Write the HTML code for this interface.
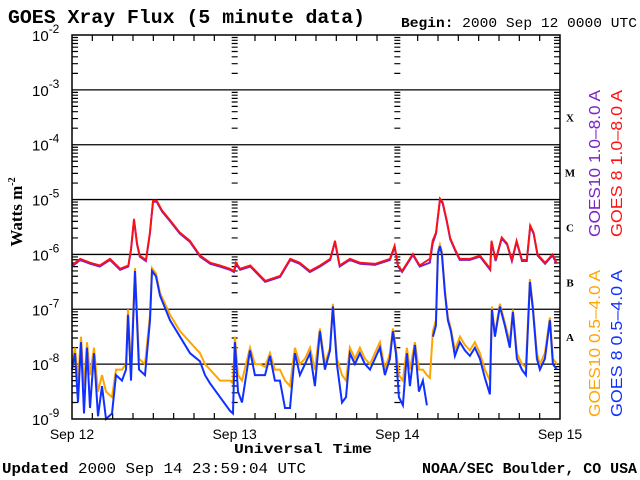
<!DOCTYPE html>
<html><head><meta charset="utf-8"><style>
html,body{margin:0;padding:0;background:#fff}
svg{display:block}
.s{font-family:"Liberation Serif",serif;font-weight:bold}
.m{font-family:"Liberation Mono",monospace;font-weight:bold}
.n{font-family:"Liberation Sans",sans-serif}
</style></head><body>
<svg id="chart" width="640" height="480" viewBox="0 0 640 480" xmlns="http://www.w3.org/2000/svg">
<rect width="640" height="480" fill="#fff"/>
<text class="m" x="8" y="23" font-size="19" textLength="357" lengthAdjust="spacingAndGlyphs">GOES Xray Flux (5 minute data)</text>
<text class="m" x="401" y="27" font-size="14" textLength="236" lengthAdjust="spacingAndGlyphs">Begin:  <tspan font-weight="normal">2000 Sep 12 0000 UTC</tspan></text>
<text class="s" font-size="17" transform="translate(22,212) rotate(-90)" text-anchor="middle">Watts m<tspan font-size="10" dy="-7">-2</tspan></text>
<text class="m" x="234" y="453" font-size="14" textLength="138" lengthAdjust="spacingAndGlyphs">Universal Time</text>
<text class="m" x="2" y="473" font-size="15" textLength="304" lengthAdjust="spacingAndGlyphs">Updated <tspan font-weight="normal">2000 Sep 14 23:59:04 UTC</tspan></text>
<text class="m" x="422" y="473" font-size="15" textLength="215" lengthAdjust="spacingAndGlyphs">NOAA/SEC Boulder, CO USA</text>
<g id="legend">
<text class="n" fill="#7b22c8" font-size="16" transform="translate(600,237) rotate(-90)" textLength="147" lengthAdjust="spacingAndGlyphs">GOES10 1.0–8.0 A</text>
<text class="n" fill="#ff1010" font-size="16" transform="translate(622,237) rotate(-90)" textLength="147" lengthAdjust="spacingAndGlyphs">GOES 8 1.0–8.0 A</text>
<text class="n" fill="#ffa500" font-size="16" transform="translate(600,417) rotate(-90)" textLength="147" lengthAdjust="spacingAndGlyphs">GOES10 0.5–4.0 A</text>
<text class="n" fill="#1030ff" font-size="16" transform="translate(622,417) rotate(-90)" textLength="147" lengthAdjust="spacingAndGlyphs">GOES 8 0.5–4.0 A</text>
</g>
<g id="grid"></g>
<g id="series"></g>
<g id="axes"></g>
</svg>
<script>
const dayLabels = ["Sep 12","Sep 13","Sep 14","Sep 15"];
const decadeExps = [-2,-3,-4,-5,-6,-7,-8,-9];
const flareClasses = ["X","M","C","B","A"];
const flareExps = [-4,-5,-6,-7,-8];

const longHours = [0,1.2,2.7,4.1,5.6,7.1,8.3,8.7,9.15,9.6,10.0,10.9,11.5,11.95,12.5,13.3,14.5,15.9,17.4,18.9,20.4,21.8,23.3,23.9,24.2,24.8,26.3,28.5,30.7,32.2,33.6,35.1,36.6,38.1,38.8,39.5,41.0,42.5,44.7,46.9,47.6,48.1,48.7,50.3,51.3,52.8,53.2,53.7,54.3,54.7,55.3,55.8,56.5,57.2,58.7,60.2,61.7,61.9,62.5,63.4,64.2,64.9,65.6,66.4,67.1,67.6,68.1,68.7,69.8,70.9,71.5];
const goes8Long = [-6.2,-6.08,-6.15,-6.2,-6.08,-6.26,-6.2,-5.9,-5.35,-5.8,-6.02,-6.1,-5.6,-5.02,-5.02,-5.2,-5.38,-5.6,-5.75,-6.02,-6.15,-6.2,-6.26,-6.3,-6.15,-6.26,-6.2,-6.48,-6.39,-6.08,-6.15,-6.3,-6.2,-6.08,-5.75,-6.2,-6.08,-6.15,-6.17,-6.08,-5.84,-6.2,-6.3,-5.99,-6.2,-6.08,-5.75,-5.6,-4.98,-5.05,-5.38,-5.7,-5.9,-6.08,-6.08,-6.02,-6.26,-5.75,-6.1,-5.69,-5.8,-6.1,-5.75,-6.1,-6.1,-5.47,-5.6,-6.0,-6.15,-6.0,-6.15];
const goes10Long = [-6.22,-6.1,-6.17,-6.22,-6.1,-6.28,-6.22,-5.92,-5.37,-5.82,-6.04,-6.12,-5.62,-5.04,-5.04,-5.22,-5.4,-5.62,-5.77,-6.04,-6.17,-6.22,-6.28,-6.32,-6.17,-6.28,-6.22,-6.5,-6.41,-6.1,-6.17,-6.32,-6.22,-6.1,-5.77,-6.22,-6.1,-6.17,-6.19,-6.1,-5.86,-6.22,-6.32,-6.01,-6.22,-6.15,-5.8,-5.62,-5.0,-5.07,-5.4,-5.72,-5.92,-6.1,-6.1,-6.04,-6.28,-5.77,-6.12,-5.71,-5.82,-6.12,-5.77,-6.12,-6.12,-5.49,-5.62,-6.02,-6.17,-6.02,-6.17];

const shortHours = [0,0.44,0.89,1.33,1.77,2.21,2.66,3.25,3.84,4.43,5.02,5.9,6.49,7.38,7.97,8.26,8.7,9.29,9.88,10.77,11.51,11.8,12.39,12.98,14.46,15.93,17.41,18.88,19.62,20.36,21.83,23.31,23.75,24.04,24.49,25.08,26.26,26.99,27.73,28.47,29.21,29.94,30.68,31.42,32.16,32.89,33.63,34.37,35.11,35.84,36.58,37.32,38.06,38.5,39.09,39.83,40.42,41.0,41.74,42.48,43.22,43.96,44.69,45.43,46.17,46.91,47.35,47.79,48.23,48.82,49.41,49.86,50.59,51.18,51.77,52.36,52.8,53.25,53.69,53.99,54.28,54.58,55.02,55.46,55.9,56.49,57.23,57.97,58.71,59.44,60.18,60.92,61.66,61.95,62.39,63.13,63.87,64.6,65.05,65.64,66.38,66.97,67.56,68.0,68.59,69.03,69.77,70.51,70.95,71.54];
const goes8Short = [-8.1,-7.8,-8.7,-7.6,-8.9,-7.7,-8.8,-7.8,-8.95,-8.4,-9.0,-8.9,-8.2,-8.3,-8.1,-7.1,-8.3,-6.3,-8.1,-8.2,-7.2,-6.3,-6.4,-6.75,-7.2,-7.5,-7.8,-7.95,-8.2,-8.35,-8.6,-8.85,-8.9,-7.6,-8.5,-8.7,-7.75,-8.2,-8.2,-8.2,-7.85,-8.3,-8.3,-8.8,-8.8,-7.8,-8.2,-8.0,-7.8,-8.4,-7.4,-8.1,-7.75,-6.95,-8.0,-8.7,-8.6,-7.8,-8.0,-7.8,-8.0,-8.1,-7.9,-7.7,-8.2,-7.9,-7.4,-7.8,-8.6,-8.75,-7.8,-8.4,-7.65,-8.5,-8.3,-8.75,null,-7.5,-7.3,-6.0,-5.85,-6.0,-6.7,-7.2,-7.4,-7.85,-7.6,-7.75,-7.85,-7.7,-7.9,-8.25,-8.55,-7.0,-7.5,-6.95,-7.3,-7.7,-7.05,-7.9,-8.1,-8.2,-6.5,-7.0,-7.9,-8.1,-7.9,-7.2,-8.0,-8.1];
const goes10Short = [-8.0,-7.7,-8.3,-7.5,-8.4,-7.6,-8.2,-7.7,-8.5,-8.2,-8.5,-8.6,-8.1,-8.1,-8.0,-7.0,-8.1,-6.25,-7.9,-8.0,-7.1,-6.25,-6.35,-6.7,-7.1,-7.4,-7.6,-7.8,-8.0,-8.1,-8.3,-8.3,-8.35,-7.5,-8.2,-8.3,-7.7,-8.0,-8.0,-8.05,-7.8,-8.1,-8.1,-8.3,-8.4,-7.7,-8.0,-7.9,-7.7,-8.1,-7.35,-8.0,-7.7,-6.9,-7.9,-8.2,-8.3,-7.7,-7.9,-7.7,-7.9,-8.0,-7.8,-7.6,-8.1,-7.8,-7.35,-7.7,-8.2,-8.3,-7.7,-8.1,-7.6,-8.1,-8.1,-8.2,-8.25,-7.4,-7.2,-5.95,-5.82,-5.95,-6.65,-7.15,-7.35,-7.75,-7.5,-7.65,-7.75,-7.6,-7.8,-8.1,-8.3,-6.95,-7.45,-6.9,-7.25,-7.6,-7.0,-7.8,-8.0,-8.05,-6.45,-6.95,-7.8,-8.0,-7.8,-7.15,-7.9,-8.0];

const NS = "http://www.w3.org/2000/svg";
const X0 = 72, X1 = 560, Y0 = 35, Y1 = 419, EXP_TOP = -2, EXP_BOT = -9, HOURS = 72;
function xScale(h){ return X0 + (h / HOURS) * (X1 - X0); }
function yScale(e){ return Y0 + (EXP_TOP - e) / (EXP_TOP - EXP_BOT) * (Y1 - Y0); }
function mk(tag, attrs, parent){ const el = document.createElementNS(NS, tag); for (const k in attrs) el.setAttribute(k, attrs[k]); parent.appendChild(el); return el; }

const grid = document.getElementById('grid');
const axes = document.getElementById('axes');
const series = document.getElementById('series');

decadeExps.forEach(function(e){
  if (e === EXP_TOP || e === EXP_BOT) return;
  const l = mk('line', {x1:X0, x2:X1, y1:yScale(e), y2:yScale(e), stroke:'#000', 'stroke-width':1.3}, grid);
  
  
});

const tickXs = [X0, xScale(24), xScale(48), X1];
let tickPath = '';
tickXs.forEach(function(tx, i){
  for (let e = EXP_BOT; e < EXP_TOP; e++) {
    for (let m = 2; m <= 9; m++) {
      const y = yScale(e + Math.log10(m));
      if (i === 0) tickPath += 'M' + tx + ' ' + y + 'h6';
      else if (i === 3) tickPath += 'M' + tx + ' ' + y + 'h-6';
      else tickPath += 'M' + (tx - 3) + ' ' + y + 'h6';
    }
  }
});
for (let h = 3; h < HOURS; h += 3) {
  const x = xScale(h);
  const len = (h % 24 === 0) ? 0 : 6;
  tickPath += 'M' + x + ' ' + Y0 + 'v' + len + 'M' + x + ' ' + Y1 + 'v-' + len;
}
const tp = mk('path', {d:tickPath, stroke:'#000', 'stroke-width':1.2, fill:'none'}, grid);



function drawLine(hours, vals, color, width, name){
  let d = '', pen = false;
  for (let i = 0; i < hours.length; i++) {
    if (vals[i] === null) { pen = false; continue; }
    const v = Math.max(vals[i], EXP_BOT);
    d += (pen ? 'L' : 'M') + xScale(hours[i]).toFixed(1) + ' ' + yScale(v).toFixed(1);
    pen = true;
  }
  const p = mk('path', {d:d, stroke:color, 'stroke-width':width, fill:'none', 'stroke-linejoin':'miter'}, series);
  
  
}
drawLine(shortHours, goes10Short, '#ffa500', 2, 'goes10-short-line');
drawLine(shortHours, goes8Short, '#1030ff', 2, 'goes8-short-line');
drawLine(longHours, goes10Long, '#7b22c8', 2, 'goes10-long-line');
drawLine(longHours, goes8Long, '#ff1010', 1.8, 'goes8-long-line');

const fr = mk('rect', {x:X0, y:Y0, width:X1 - X0, height:Y1 - Y0, fill:'none', stroke:'#000', 'stroke-width':1.5}, axes);



decadeExps.forEach(function(e){
  const t = mk('text', {x:32, y:yScale(e) + 6, 'font-size':15, 'font-family':'Liberation Sans, sans-serif'}, axes);
  
  
  t.textContent = '10';
  const s = mk('tspan', {dy:-8, 'font-size':12}, t);
  s.textContent = String(e);
});
dayLabels.forEach(function(lbl, i){
  const t = mk('text', {x:xScale(i * 24), y:439, 'font-size':14, 'text-anchor':'middle', 'font-family':'Liberation Sans, sans-serif'}, axes);
  
  
  t.textContent = lbl;
});
flareClasses.forEach(function(c, i){
  const t = mk('text', {x:570, y:yScale(flareExps[i]) - 23, 'font-size':11, 'text-anchor':'middle', 'font-family':'Liberation Serif, serif', 'font-weight':'bold'}, axes);
  
  
  t.textContent = c;
});
</script>
</body></html>
